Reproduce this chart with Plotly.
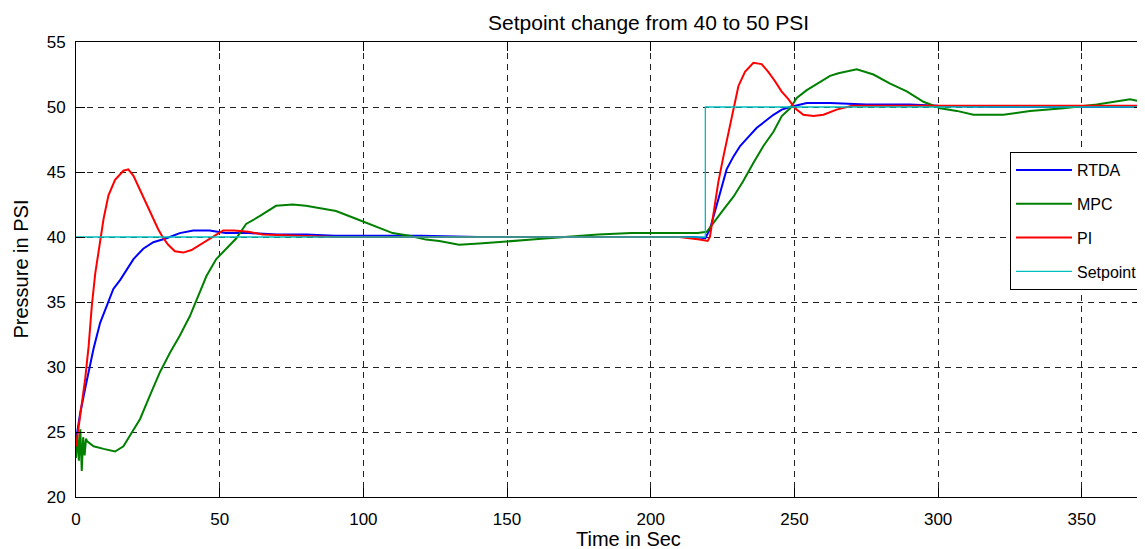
import plotly.graph_objects as go

# ---------------- data ----------------
t_rtda = [0, 1.5, 3.8, 6.1, 8.4, 10.7, 13, 15.4, 17.7, 20, 23.4, 26.9, 31.5, 36.1,
          40.8, 46.5, 52, 60, 70, 80, 90, 100, 120, 140, 160, 180, 200, 215, 219,
          220.6, 222.9, 224.7, 226.4, 228.8, 231.1, 234, 236.9, 239.8, 242.7, 245.6,
          248.5, 254.3, 262.5, 275, 290, 300, 320, 340, 371]
y_rtda = [24.4, 26.5, 29.0, 31.4, 33.4, 34.7, 36.0, 36.7, 37.5, 38.3, 39.1, 39.6, 39.9, 40.3,
          40.5, 40.5, 40.3, 40.3, 40.2, 40.2, 40.1, 40.1, 40.1, 40.0, 40.0, 40.0, 40.0, 40.0, 39.9,
          40.6, 42.4, 43.9, 45.2, 46.2, 47.0, 47.7, 48.4, 48.9, 49.4, 49.8,
          50.0, 50.3, 50.3, 50.2, 50.2, 50.1, 50.0, 50.0, 50.0]

t_mpc = [0, 0.5, 1.0, 1.5, 2.0, 2.5, 3.0, 3.5, 3.8, 6.1, 9.6, 13.6, 16.5, 18.8, 22.3,
         25.7, 29.2, 32.7, 36.1, 39.6, 42, 45.4, 48.8, 52.3, 55.8, 59.2, 63.9, 69.6,
         75.4, 80, 84.7, 90.5, 96.3, 99.8, 104.4, 110.2, 116, 121.8, 126.4, 133.3,
         140.3, 147.2, 158.7, 170, 181.7, 193.3, 205, 216.4, 219.5, 221.8, 225.3,
         228.8, 232.2, 235.7, 239.2, 242.7, 245.6, 248.5, 250.8, 254.3, 257.8, 262.4,
         265.3, 271.7, 277.5, 283.3, 289.1, 294.9, 300.7, 306.5, 312.3, 322.7, 332,
         343.6, 355.2, 366.8, 371]
y_mpc = [23.0, 24.8, 22.8, 25.2, 22.0, 24.6, 23.2, 24.5, 24.3, 23.9, 23.7, 23.5, 23.9, 24.7, 26.0,
         27.8, 29.6, 31.1, 32.4, 33.9, 35.2, 37.0, 38.3, 39.1, 39.9, 41.0, 41.6, 42.4,
         42.5, 42.4, 42.2, 42.0, 41.5, 41.2, 40.8, 40.3, 40.1, 39.8, 39.7, 39.4,
         39.5, 39.6, 39.8, 40.0, 40.2, 40.3, 40.3, 40.3, 40.4, 41.1, 42.1,
         43.1, 44.3, 45.7, 47.0, 48.1, 49.3, 49.9, 50.7, 51.3, 51.8, 52.4,
         52.6, 52.9, 52.5, 51.8, 51.2, 50.4, 49.9, 49.7, 49.4, 49.4, 49.7,
         49.9, 50.2, 50.6, 50.4]

t_pi = [0, 1.5, 3.2, 4.4, 5.5, 6.7, 7.9, 9.6, 11.3, 13.6, 16.5, 18.2, 20, 22.3, 24.6,
        26.9, 28.6, 30.4, 32.1, 34.4, 37.3, 40.2, 43.1, 46, 48.8, 51.2, 55, 60, 65, 75,
        90, 110, 130, 150, 170, 190, 210, 217, 219.8, 220.6, 221.8, 223.5, 225.3, 227,
        228.8, 230.5, 232.8, 235.7, 238.6, 240.9, 243.2, 245.5, 247.9, 250.2, 253.1,
        256.6, 260.1, 264.7, 270, 290, 320, 350, 371]
y_pi = [23.9, 26.2, 29.1, 31.6, 34.7, 37.2, 39.0, 41.4, 43.2, 44.4, 45.1, 45.2, 44.7, 43.6, 42.4,
        41.4, 40.6, 39.9, 39.4, 38.9, 38.8, 39.0, 39.4, 39.8, 40.2, 40.5, 40.5, 40.4, 40.2, 40.1,
        40.0, 40.0, 40.0, 40.0, 40.0, 40.0, 40.0, 39.8, 39.7, 40.0, 41.8, 44.2, 46.2, 48.0,
        50.0, 51.6, 52.7, 53.4, 53.3, 52.7, 52.0, 51.2, 50.6, 49.9, 49.4,
        49.3, 49.4, 49.8, 50.1, 50.1, 50.1, 50.1, 50.1]

t_sp = [0, 219, 219, 371]
y_sp = [40, 40, 50, 50]

x_ticks = [0, 50, 100, 150, 200, 250, 300, 350]
y_ticks = [20, 25, 30, 35, 40, 45, 50, 55]

title_text = "Setpoint change from 40 to 50 PSI"
x_label = "Time in Sec"
y_label = "Pressure in PSI"

# ---------------- figure ----------------
FONT = "Liberation Sans, Arial, Helvetica, sans-serif"

fig = go.Figure()
series = [
    ("RTDA", t_rtda, y_rtda, "#0000FF", 2.0),
    ("MPC", t_mpc, y_mpc, "#008000", 2.0),
    ("PI", t_pi, y_pi, "#FF0000", 2.0),
    ("Setpoint", t_sp, y_sp, "#00BFBF", 1.3),
]
for name, tx, ty, col, w in series:
    fig.add_trace(go.Scatter(x=tx, y=ty, mode="lines", name=name,
                             legendgroup=name,
                             line=dict(color=col, width=w)))

axis_common = dict(
    showline=True, linecolor="black", linewidth=1, mirror="ticks",
    ticks="inside", ticklen=9, tickcolor="black", tickwidth=1,
    showgrid=True, gridcolor="#222222", gridwidth=1, griddash="6px,5px",
    zeroline=False, automargin=False,
    tickfont=dict(family=FONT, size=17, color="black"),
)

fig.update_xaxes(range=[0, 371.3], tickvals=x_ticks, ticklabelstandoff=7, **axis_common)
fig.update_yaxes(range=[20, 55], tickvals=y_ticks, ticklabelstandoff=6, **axis_common)

# the page body has an 8px margin, so the figure is 8px smaller and margins shifted
fig.update_layout(
    width=1137, height=541,
    margin=dict(l=68, r=2, t=34, b=52, autoexpand=False),
    paper_bgcolor="white", plot_bgcolor="white",
    font=dict(family=FONT, color="black"),
    showlegend=True,
    legend=dict(
        x=1.0, xanchor="right", y=1 - (152 - 42) / 455, yanchor="top",
        bgcolor="white", bordercolor="black", borderwidth=1,
        font=dict(family=FONT, size=16, color="black"),
        itemwidth=56, tracegroupgap=10, traceorder="grouped",
    ),
    annotations=[
        dict(text=title_text, xref="paper", yref="paper", x=(648 - 76) / 1067, y=1 + (42 - 23) / 455,
             xanchor="center", yanchor="middle", showarrow=False,
             font=dict(family=FONT, size=21, color="black")),
        dict(text=x_label, xref="paper", yref="paper", x=(628 - 76) / 1067, y=-(539 - 497) / 455,
             xanchor="center", yanchor="middle", showarrow=False,
             font=dict(family=FONT, size=20, color="black")),
        dict(text=y_label, xref="paper", yref="paper", x=-(76 - 20) / 1067, y=0.5,
             xanchor="center", yanchor="middle", showarrow=False, textangle=-90,
             font=dict(family=FONT, size=20, color="black")),
    ],
)

fig.write_html("out.html")
